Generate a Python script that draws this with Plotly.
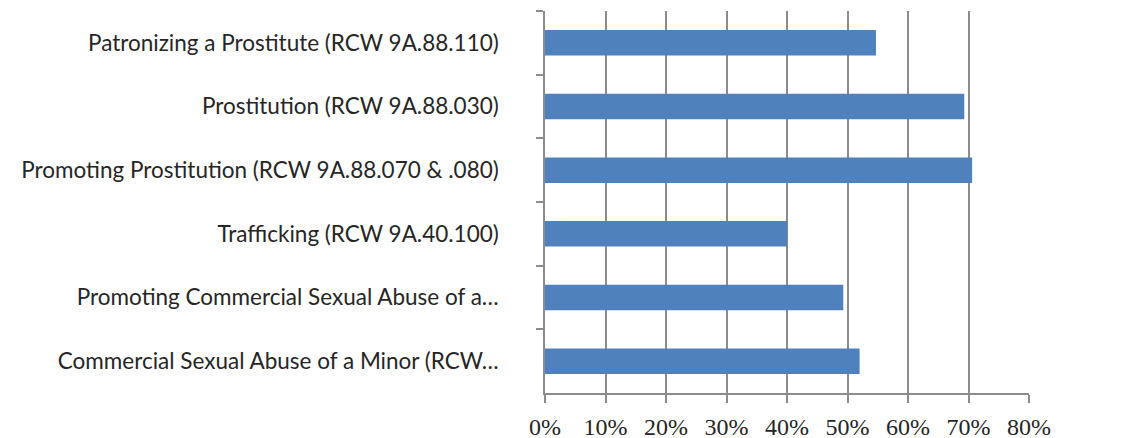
import plotly.graph_objects as go

# categories listed top to bottom, as in the chart
offences = [
    "Patronizing a Prostitute (RCW 9A.88.110)",
    "Prostitution (RCW 9A.88.030)",
    "Promoting Prostitution (RCW 9A.88.070 & .080)",
    "Trafficking (RCW 9A.40.100)",
    "Promoting Commercial Sexual Abuse of a…",
    "Commercial Sexual Abuse of a Minor (RCW…",
]
shares = [0.547, 0.693, 0.706, 0.400, 0.493, 0.520]

x_ticks = [0, 0.1, 0.2, 0.3, 0.4, 0.5, 0.6, 0.7, 0.8]

grey = "#8c8c8c"

fig = go.Figure(
    go.Bar(
        y=offences,
        x=shares,
        orientation="h",
        marker=dict(color="#4F81BD", line=dict(width=0)),
        hoverinfo="skip",
    )
)

fig.update_layout(
    width=1128,
    height=438,
    margin=dict(l=537, r=107, t=3, b=53),
    plot_bgcolor="white",
    paper_bgcolor="white",
    bargap=0.6,
    showlegend=False,
)

fig.update_xaxes(
    range=[0, 0.8],
    tickvals=x_ticks,
    tickformat=".0%",
    showgrid=True,
    gridcolor=grey,
    gridwidth=1.5,
    showline=True,
    linecolor=grey,
    linewidth=1.5,
    ticks="outside",
    ticklen=8,
    tickcolor=grey,
    tickwidth=1.5,
    ticklabelstandoff=3,
    zeroline=False,
    automargin=False,
    tickfont=dict(family="Liberation Serif", size=24, color="#262626"),
)

fig.update_yaxes(
    autorange="reversed",
    showgrid=False,
    showline=True,
    linecolor=grey,
    linewidth=1.5,
    ticks="outside",
    tickson="boundaries",
    ticklen=7,
    tickcolor=grey,
    tickwidth=1.5,
    ticklabelstandoff=40,
    automargin=False,
    tickfont=dict(family="Lato", size=22.5, color="#262626"),
)

fig.write_html("out.html")
